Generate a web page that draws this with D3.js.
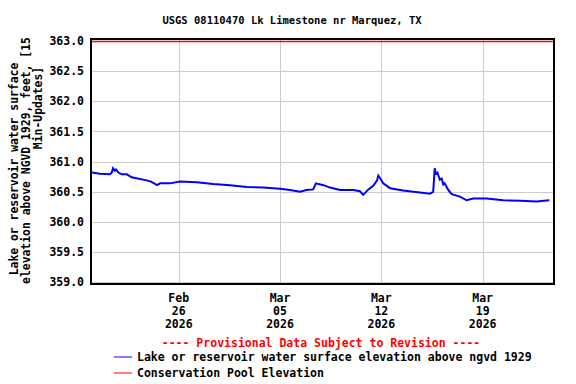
<!DOCTYPE html>
<html>
<head>
<meta charset="utf-8">
<script src="https://cdn.jsdelivr.net/npm/d3@7"></script>
<style>
  body { margin: 0; background: #fff; }
  text { font-family: "DejaVu Sans Mono", monospace; font-weight: bold; }
</style>
</head>
<body>
<script>
// ---- data ----
const times = [
  "2026-02-20T00:00", "2026-02-20T13:30", "2026-02-21T06:00", "2026-02-21T09:00", "2026-02-21T11:00",
  "2026-02-21T14:00", "2026-02-21T16:00", "2026-02-21T20:00", "2026-02-22T01:30", "2026-02-22T10:00",
  "2026-02-22T18:00", "2026-02-23T19:00", "2026-02-24T02:00", "2026-02-24T08:40", "2026-02-24T12:00",
  "2026-02-24T17:00", "2026-02-25T09:30", "2026-02-26T02:00", "2026-02-27T06:00", "2026-02-28T09:00",
  "2026-03-01T13:00", "2026-03-02T17:00", "2026-03-03T20:00", "2026-03-05T00:00", "2026-03-05T16:30",
  "2026-03-06T09:00", "2026-03-06T20:00", "2026-03-07T07:00", "2026-03-07T11:30", "2026-03-08T00:00",
  "2026-03-08T11:00", "2026-03-09T03:30", "2026-03-10T01:30", "2026-03-10T12:30", "2026-03-10T18:00",
  "2026-03-11T02:30", "2026-03-11T10:30", "2026-03-11T17:00", "2026-03-11T19:00", "2026-03-11T21:50",
  "2026-03-12T03:00", "2026-03-12T14:30", "2026-03-13T12:00", "2026-03-14T16:00", "2026-03-15T08:40",
  "2026-03-15T14:00", "2026-03-15T16:30", "2026-03-15T18:00", "2026-03-15T21:00", "2026-03-16T01:00",
  "2026-03-16T04:00", "2026-03-16T06:40", "2026-03-16T09:00", "2026-03-16T12:20", "2026-03-16T15:00",
  "2026-03-16T20:40", "2026-03-17T10:20", "2026-03-17T21:20", "2026-03-18T08:30", "2026-03-19T06:40",
  "2026-03-20T10:00", "2026-03-21T14:00", "2026-03-22T17:30", "2026-03-23T14:30"
];
const elevation = [
  360.82, 360.80, 360.79, 360.82, 360.89,
  360.85, 360.87, 360.82, 360.79, 360.79,
  360.74, 360.69, 360.67, 360.63, 360.61,
  360.64, 360.64, 360.67, 360.66, 360.63,
  360.61, 360.58, 360.57, 360.55, 360.53,
  360.50, 360.53, 360.54, 360.64, 360.61,
  360.57, 360.53, 360.53, 360.51, 360.45,
  360.54, 360.60, 360.69, 360.77, 360.73,
  360.64, 360.56, 360.52, 360.49, 360.47,
  360.50, 360.89, 360.80, 360.82, 360.70,
  360.72, 360.62, 360.64, 360.58, 360.53,
  360.46, 360.42, 360.36, 360.39, 360.39,
  360.36, 360.35, 360.34, 360.36
];
const poolElevation = 363.0;
const yTicks = [359.0, 359.5, 360.0, 360.5, 361.0, 361.5, 362.0, 362.5, 363.0];
const xTicks = ["2026-02-26", "2026-03-05", "2026-03-12", "2026-03-19"];
const xDomain = ["2026-02-19T22:30", "2026-03-23T22:20"];
const title = "USGS 08110470 Lk Limestone nr Marquez, TX";
const yLabel = ["Lake or reservoir water surface", "elevation above NGVD 1929, feet, [15", "Min-Updates]"];
const legendItems = [
  { label: "Lake or reservoir water surface elevation above ngvd 1929", color: "#0000ff" },
  { label: "Conservation Pool Elevation", color: "#ff0000" }
];

const width = 576, height = 384;
const box = { left: 91, right: 554, top: 39, bottom: 284 };
const parse = d3.timeParse("%Y-%m-%dT%H:%M");
const parseDay = d3.timeParse("%Y-%m-%d");

const data = times.map((t, i) => ({ t: parse(t), v: elevation[i] }));

const x = d3.scaleTime().domain(xDomain.map(parse)).range([box.left, box.right]);
const y = d3.scaleLinear().domain([359, 363]).range([282.3, 41]);

const svg = d3.select("body").append("svg")
  .attr("width", width).attr("height", height);

// grid
svg.append("g").selectAll("line.h").data(yTicks).join("line")
  .attr("x1", box.left).attr("x2", box.right)
  .attr("y1", d => Math.round(y(d)) + 0.5).attr("y2", d => Math.round(y(d)) + 0.5)
  .attr("stroke", "#cccccc");
svg.append("g").selectAll("line.v").data(xTicks.map(parseDay)).join("line")
  .attr("x1", d => Math.round(x(d)) + 0.5).attr("x2", d => Math.round(x(d)) + 0.5)
  .attr("y1", box.top).attr("y2", box.bottom)
  .attr("stroke", "#cccccc");

// y tick labels
svg.append("g").selectAll("text").data(yTicks).join("text")
  .attr("x", 84).attr("y", d => y(d))
  .attr("dy", "0.35em").attr("text-anchor", "end")
  .style("font-size", "11.5px")
  .text(d => d3.format(".1f")(d));

// x tick labels (3 lines each)
const fmts = [d3.timeFormat("%b"), d3.timeFormat("%d"), d3.timeFormat("%Y")];
const xl = svg.append("g").selectAll("text").data(xTicks.map(parseDay)).join("text")
  .attr("text-anchor", "middle").style("font-size", "11.5px");
fmts.forEach((f, i) => {
  xl.append("tspan").attr("x", d => x(d)).attr("y", 302 + i * 13.2).text(d => f(d));
});

// conservation pool line
svg.append("line")
  .attr("x1", box.left).attr("x2", box.right)
  .attr("y1", Math.round(y(poolElevation)) + 0.5).attr("y2", Math.round(y(poolElevation)) + 0.5)
  .attr("stroke", "#ff0000").attr("stroke-width", 1.3);

// elevation line
svg.append("path").datum(data)
  .attr("fill", "none").attr("stroke", "#0000ff").attr("stroke-width", 2)
  .attr("d", d3.line().x(d => x(d.t)).y(d => y(d.v)));

// frame
svg.append("rect")
  .attr("x", box.left).attr("y", box.top)
  .attr("width", box.right - box.left).attr("height", box.bottom - box.top)
  .attr("fill", "none").attr("stroke", "#000").attr("stroke-width", 2);

// title
svg.append("text").attr("x", 292).attr("y", 24).attr("text-anchor", "middle")
  .style("font-size", "10.5px").text(title);

// y label
const yCenters = [169, 160.5, 108];
yLabel.forEach((s, i) => {
  svg.append("text")
    .attr("transform", `translate(${17.5 + i * 12.3},${yCenters[i]}) rotate(-90)`)
    .attr("text-anchor", "middle").style("font-size", "11.4px").text(s);
});

// provisional note
svg.append("text").attr("x", 321).attr("y", 347).attr("text-anchor", "middle")
  .attr("fill", "#ff0000").style("font-size", "11.5px")
  .text("---- Provisional Data Subject to Revision ----");

// legend
const lg = svg.append("g").selectAll("g").data(legendItems).join("g")
  .attr("transform", (d, i) => `translate(0,${357 + i * 16})`);
lg.append("line").attr("x1", 114).attr("x2", 132).attr("y1", 0).attr("y2", 0)
  .attr("stroke", d => d.color);
lg.append("text").attr("x", 137).attr("y", 0).attr("dy", "0.35em")
  .style("font-size", "11.5px").text(d => d.label);
</script>
</body>
</html>
